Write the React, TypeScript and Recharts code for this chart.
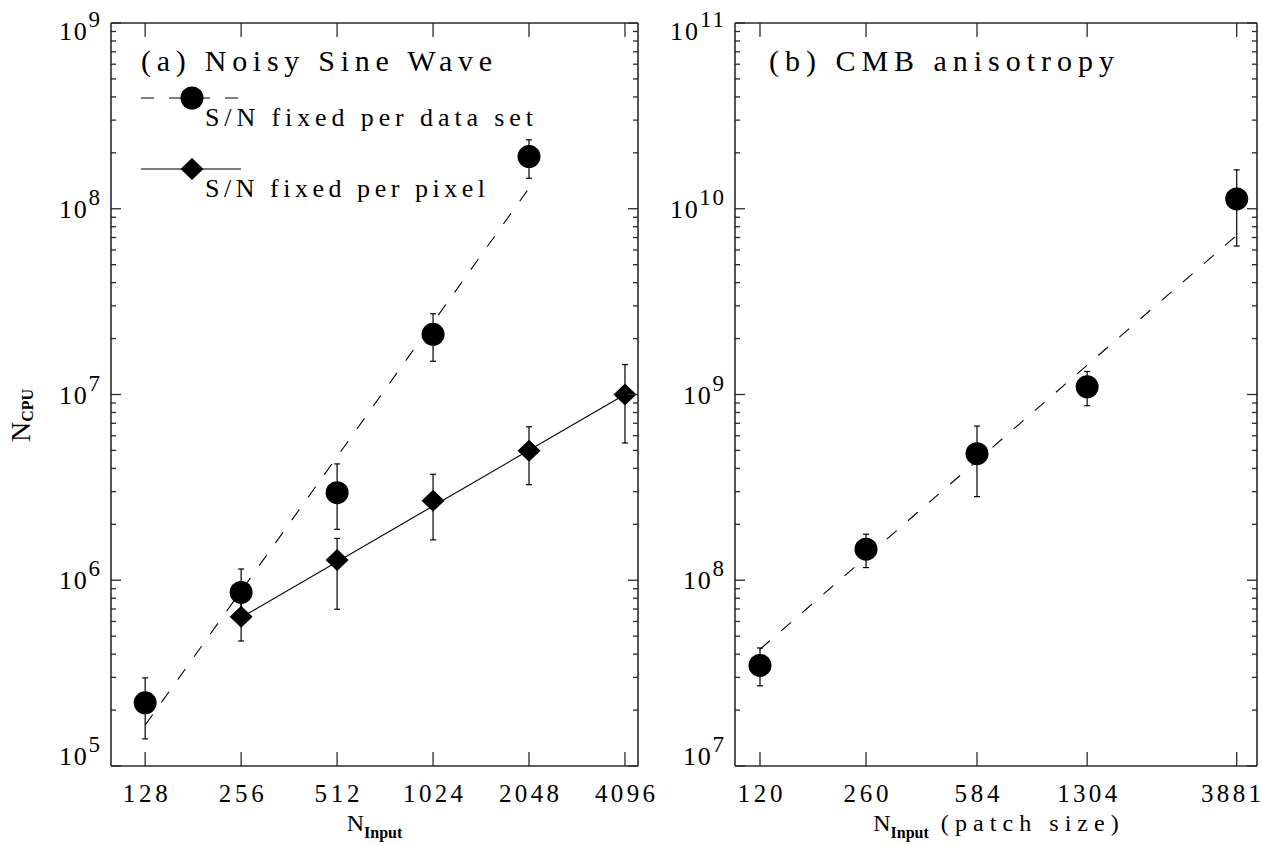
import React from 'react';
import { ComposedChart, XAxis, YAxis, Scatter, Line, ErrorBar, Legend, Label } from 'recharts';

const FONT = '"Liberation Serif", "DejaVu Serif", serif';
const AX = '#2a2a2a';

// ---------- Panel (a): Noisy Sine Wave ----------
const nInputA = [128, 256, 512, 1024, 2048, 4096];
const roundXA = [128, 256, 512, 1024, 2048];
const roundYA = [2.19e5, 8.6e5, 2.96e6, 2.11e7, 1.91e8];
const roundLoA = [1.4e5, 6.5e5, 1.88e6, 1.51e7, 1.46e8];
const roundHiA = [2.98e5, 1.15e6, 4.23e6, 2.72e7, 2.35e8];
const diamXA = [256, 512, 1024, 2048, 4096];
const diamYA = [6.37e5, 1.285e6, 2.68e6, 4.98e6, 1.0e7];
const diamLoA = [4.71e5, 6.98e5, 1.65e6, 3.27e6, 5.48e6];
const diamHiA = [7.6e5, 1.68e6, 3.72e6, 6.7e6, 1.45e7];
const fitDashXA = [128, 2048];
const fitDashYA = [1.66e5, 1.29e8];
const fitSolidXA = [256, 4096];
const fitSolidYA = [6.3e5, 1.0e7];

// ---------- Panel (b): CMB anisotropy ----------
const nInputB = [120, 260, 584, 1304, 3881];
const cmbYB = [3.48e7, 1.47e8, 4.8e8, 1.1e9, 1.13e10];
const cmbLoB = [2.7e7, 1.17e8, 2.82e8, 8.7e8, 6.3e9];
const cmbHiB = [4.32e7, 1.77e8, 6.76e8, 1.33e9, 1.62e10];
const fitXB = [120, 3881];
const fitYB = [4.25e7, 7.2e9];

const xDomain: [number, number] = [100, 4500];
const yDomainA: [number, number] = [1e5, 1e9];
const yDomainB: [number, number] = [1e7, 1e11];

const pts = (xs: number[], ys: number[], lo?: number[], hi?: number[]) =>
  xs.map((x, i) => ({
    x,
    y: ys[i],
    err: lo && hi ? [ys[i] - lo[i], hi[i] - ys[i]] : undefined,
  }));

const roundA = pts(roundXA, roundYA, roundLoA, roundHiA);
const diamA = pts(diamXA, diamYA, diamLoA, diamHiA);
const fitDashA = pts(fitDashXA, fitDashYA);
const fitSolidA = pts(fitSolidXA, fitSolidYA);
const cmbB = pts(nInputB, cmbYB, cmbLoB, cmbHiB);
const fitB = pts(fitXB, fitYB);

function logTicks([lo, hi]: [number, number]) {
  const out: number[] = [];
  const e0 = Math.round(Math.log10(lo));
  const e1 = Math.round(Math.log10(hi));
  for (let e = e0; e <= e1; e++) {
    for (let m = 1; m <= 9; m++) {
      const v = m * Math.pow(10, e);
      if (v <= hi * 1.0000001) out.push(v);
    }
  }
  return out;
}
const yTicksA = logTicks(yDomainA);
const yTicksB = logTicks(yDomainB);

const DIGIT_W = 15;

const XTickBottom = (props: any) => {
  const { x, y, payload, maxRight } = props;
  const s = String(payload.value);
  const w = s.length * DIGIT_W;
  const cx = maxRight != null ? Math.min(x, maxRight - w / 2) : x;
  return (
    <g>
      <line x1={x} y1={y} x2={x} y2={y - 14} stroke={AX} strokeWidth={1.3} />
      <text
        x={cx}
        y={y + 36}
        textAnchor="middle"
        fontFamily={FONT}
        fontSize={25}
        fill="#000"
        textLength={w}
        lengthAdjust="spacing"
      >
        {s}
      </text>
    </g>
  );
};
const XTickTop = (props: any) => {
  const { x, y } = props;
  return <line x1={x} y1={y} x2={x} y2={y + 14} stroke={AX} strokeWidth={1.3} />;
};

function makeYTick(side: 'left' | 'right', dom: [number, number]) {
  return (props: any) => {
    const { x, y, payload } = props;
    const v = payload.value;
    const lg = Math.log10(v);
    const e = Math.round(lg);
    const major = Math.abs(lg - e) < 1e-6;
    const len = major ? 10 : 5;
    const dir = side === 'left' ? 1 : -1;
    const ln = <line x1={x} y1={y} x2={x + dir * len} y2={y} stroke={AX} strokeWidth={1.3} />;
    if (side === 'right' || !major) return <g>{ln}</g>;
    let base = y + 9;
    if (Math.abs(v - dom[0]) / dom[0] < 1e-6) base = y - 1;
    else if (Math.abs(v - dom[1]) / dom[1] < 1e-6) base = y + 17;
    const sup = String(e);
    return (
      <g>
        {ln}
        <text
          x={x - 11}
          y={base}
          textAnchor="end"
          fontFamily={FONT}
          fontSize={26}
          fill="#000"
          textLength={28 + sup.length * 13}
          lengthAdjust="spacing"
        >
          10
          <tspan dy={-13} fontSize={23}>
            {sup}
          </tspan>
        </text>
      </g>
    );
  };
}

const Circle = (p: any) => <circle cx={p.cx} cy={p.cy} r={11.5} fill="#000" />;
const Diamond = (p: any) => (
  <polygon
    points={`${p.cx - 11.5},${p.cy} ${p.cx},${p.cy - 11} ${p.cx + 11.5},${p.cy} ${p.cx},${p.cy + 11}`}
    fill="#000"
  />
);

const XLabel = (suffix: string, suffixLen: number) => (props: any) => {
  const vb = props.viewBox || {};
  const cx = vb.x + vb.width / 2;
  return (
    <text x={cx} y={vb.y + 65} textAnchor="middle" fontFamily={FONT} fontSize={24} fill="#000">
      N
      <tspan dy={7} fontSize={16} fontWeight="bold">
        Input
      </tspan>
      {suffix ? (
        <tspan dy={-7} fontSize={24} textLength={suffixLen} lengthAdjust="spacing">
          {suffix}
        </tspan>
      ) : null}
    </text>
  );
};

const YLabel = (props: any) => {
  const vb = props.viewBox || {};
  const x = vb.x + vb.width - 81;
  const y = vb.y + vb.height / 2 + 21;
  return (
    <text
      x={x}
      y={y}
      transform={`rotate(-90 ${x} ${y})`}
      textAnchor="middle"
      fontFamily={FONT}
      fontSize={28}
      fill="#000"
    >
      N
      <tspan dy={3} fontSize={16} fontWeight="bold">
        CPU
      </tspan>
    </text>
  );
};

const LegendA = () => (
  <svg width={650} height={220} style={{ display: 'block' }}>
    <text x={141} y={71} fontFamily={FONT} fontSize={30} fill="#000" textLength={351} lengthAdjust="spacing">
      (a) Noisy Sine Wave
    </text>
    <line x1={141} y1={98} x2={241} y2={98} stroke="#000" strokeWidth={1.2} strokeDasharray="13 15" />
    <circle cx={192} cy={98} r={11.5} fill="#000" />
    <text x={205} y={126} fontFamily={FONT} fontSize={26} fill="#000" textLength={328} lengthAdjust="spacing">
      S/N fixed per data set
    </text>
    <line x1={141} y1={169} x2={241} y2={169} stroke="#000" strokeWidth={1.2} />
    <polygon points="180.5,169 192,158 203.5,169 192,180" fill="#000" />
    <text x={205} y={197} fontFamily={FONT} fontSize={26} fill="#000" textLength={280} lengthAdjust="spacing">
      S/N fixed per pixel
    </text>
  </svg>
);

const LegendB = () => (
  <svg width={612} height={120} style={{ display: 'block' }}>
    <text x={119} y={71} fontFamily={FONT} fontSize={30} fill="#000" textLength={345} lengthAdjust="spacing">
      (b) CMB anisotropy
    </text>
  </svg>
);

const axisLine = { stroke: AX, strokeWidth: 1.6 };

export default function App() {
  return (
    <div style={{ position: 'absolute', left: 0, top: 0, width: 1262, height: 846, background: '#fff' }}>
      <div style={{ position: 'absolute', left: 0, top: 0 }}>
        <ComposedChart width={700} height={846} margin={{ top: 22, right: 61, bottom: 79, left: 110 }}>
          <XAxis
            xAxisId="b"
            dataKey="x"
            type="number"
            scale="log"
            domain={xDomain}
            allowDataOverflow
            ticks={nInputA}
            interval={0}
            height={1}
            tickSize={0}
            tickMargin={0}
            axisLine={axisLine}
            tick={<XTickBottom />}
          >
            <Label content={XLabel('', 0)} />
          </XAxis>
          <XAxis
            xAxisId="t"
            orientation="top"
            dataKey="x"
            type="number"
            scale="log"
            domain={xDomain}
            allowDataOverflow
            ticks={nInputA}
            interval={0}
            height={1}
            tickSize={0}
            tickMargin={0}
            axisLine={axisLine}
            tick={<XTickTop />}
          />
          <YAxis
            yAxisId="l"
            type="number"
            scale="log"
            domain={yDomainA}
            allowDataOverflow
            ticks={yTicksA}
            interval={0}
            width={1}
            tickSize={0}
            tickMargin={0}
            axisLine={axisLine}
            tick={makeYTick('left', yDomainA)}
          >
            <Label content={YLabel} />
          </YAxis>
          <YAxis
            yAxisId="r"
            orientation="right"
            type="number"
            scale="log"
            domain={yDomainA}
            allowDataOverflow
            ticks={yTicksA}
            interval={0}
            width={1}
            tickSize={0}
            tickMargin={0}
            axisLine={axisLine}
            tick={makeYTick('right', yDomainA)}
          />
          <Line
            data={fitDashA}
            dataKey="y"
            xAxisId="b"
            yAxisId="l"
            stroke="#000"
            strokeWidth={1.1}
            strokeDasharray="13 15"
            dot={false}
            activeDot={false}
            isAnimationActive={false}
          />
          <Line
            data={fitSolidA}
            dataKey="y"
            xAxisId="b"
            yAxisId="l"
            stroke="#000"
            strokeWidth={1.1}
            dot={false}
            activeDot={false}
            isAnimationActive={false}
          />
          <Scatter data={roundA} dataKey="y" xAxisId="b" yAxisId="l" shape={Circle} isAnimationActive={false}>
            <ErrorBar dataKey="err" direction="y" width={3} stroke="#000" strokeWidth={1.2} />
          </Scatter>
          <Scatter data={diamA} dataKey="y" xAxisId="b" yAxisId="l" shape={Diamond} isAnimationActive={false}>
            <ErrorBar dataKey="err" direction="y" width={3} stroke="#000" strokeWidth={1.2} />
          </Scatter>
          <Legend
            content={LegendA}
            layout="horizontal"
            verticalAlign="middle"
            align="center"
            wrapperStyle={{ position: 'absolute', left: 0, top: 0, width: 650, height: 220 }}
          />
        </ComposedChart>
      </div>
      <div style={{ position: 'absolute', left: 650, top: 0 }}>
        <ComposedChart width={612} height={846} margin={{ top: 22, right: 4, bottom: 79, left: 84 }}>
          <XAxis
            xAxisId="b"
            dataKey="x"
            type="number"
            scale="log"
            domain={xDomain}
            allowDataOverflow
            ticks={nInputB}
            interval={0}
            height={1}
            tickSize={0}
            tickMargin={0}
            axisLine={axisLine}
            tick={<XTickBottom maxRight={611} />}
          >
            <Label content={XLabel(' (patch size)', 190)} />
          </XAxis>
          <XAxis
            xAxisId="t"
            orientation="top"
            dataKey="x"
            type="number"
            scale="log"
            domain={xDomain}
            allowDataOverflow
            ticks={nInputB}
            interval={0}
            height={1}
            tickSize={0}
            tickMargin={0}
            axisLine={axisLine}
            tick={<XTickTop />}
          />
          <YAxis
            yAxisId="l"
            type="number"
            scale="log"
            domain={yDomainB}
            allowDataOverflow
            ticks={yTicksB}
            interval={0}
            width={1}
            tickSize={0}
            tickMargin={0}
            axisLine={axisLine}
            tick={makeYTick('left', yDomainB)}
          />
          <YAxis
            yAxisId="r"
            orientation="right"
            type="number"
            scale="log"
            domain={yDomainB}
            allowDataOverflow
            ticks={yTicksB}
            interval={0}
            width={1}
            tickSize={0}
            tickMargin={0}
            axisLine={axisLine}
            tick={makeYTick('right', yDomainB)}
          />
          <Line
            data={fitB}
            dataKey="y"
            xAxisId="b"
            yAxisId="l"
            stroke="#000"
            strokeWidth={1.1}
            strokeDasharray="13 15"
            dot={false}
            activeDot={false}
            isAnimationActive={false}
          />
          <Scatter data={cmbB} dataKey="y" xAxisId="b" yAxisId="l" shape={Circle} isAnimationActive={false}>
            <ErrorBar dataKey="err" direction="y" width={3} stroke="#000" strokeWidth={1.2} />
          </Scatter>
          <Legend
            content={LegendB}
            layout="horizontal"
            verticalAlign="middle"
            align="center"
            wrapperStyle={{ position: 'absolute', left: 0, top: 0, width: 612, height: 120 }}
          />
        </ComposedChart>
      </div>
    </div>
  );
}
